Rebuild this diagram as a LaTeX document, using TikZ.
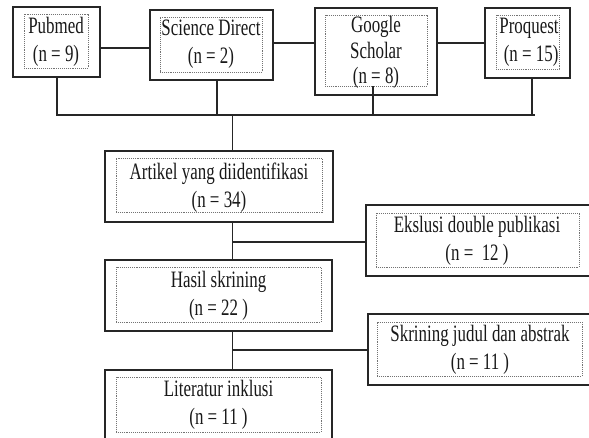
\documentclass[tikz,border=0pt]{standalone}
\usepackage{graphicx}
\usepackage{fontspec}
\setmainfont{Liberation Serif}
\newcommand{\lbl}[1]{\scalebox{0.72}[1]{\begin{tabular}{@{}c@{}}#1\end{tabular}}}

\begin{document}
\begin{tikzpicture}[x=1pt,y=-1pt,
    box/.style={draw=black!85, line width=1.4pt, inner sep=0pt},
    dotbox/.style={draw=black!55, densely dotted, line width=0.9pt, inner sep=0pt},
    txt/.style={inner sep=0pt, text=black!90, font=\fontsize{23.5}{28}\selectfont},
    link/.style={draw=black!85, line width=1.1pt}]
          \useasboundingbox (0,0) rectangle (589,438);
          \fill[white] (0,0) rectangle (589,438);
          \clip (0,0) rectangle (589,438);

          % Databases
          \node[box, minimum width=87, minimum height=70] (pubmed) at (56.5,42) {};
          \node[dotbox, minimum width=64, minimum height=54] (pubmedIn) at (56,41) {};
          \node[txt] (pubmedTx) at (56,42) {\lbl{Pubmed\\(n = 9)}};

          \node[box, minimum width=123, minimum height=70] (sd) at (211.5,45) {};
          \node[dotbox, minimum width=102, minimum height=55] (sdIn) at (211,44.5) {};
          \node[txt] (sdTx) at (211,44) {\lbl{Science Direct\\(n = 2)}};

          \node[box, minimum width=122, minimum height=87] (gs) at (376,51.5) {};
          \node[dotbox, minimum width=102, minimum height=71] (gsIn) at (376,50.5) {};
          \node[txt, font=\fontsize{23.5}{25.5}\selectfont] (gsTx) at (376,53.4) {\lbl{Google\\Scholar\\(n = 8)}};

          \node[box, minimum width=85, minimum height=70] (pq) at (527.5,43) {};
          \node[dotbox, minimum width=63, minimum height=54] (pqIn) at (527.5,42) {};
          \node[txt] (pqTx) at (529,42) {\lbl{Proquest\\~(n = 15)}};

          % Flow
          \node[box, minimum width=228, minimum height=71] (artikel) at (219,186.5) {};
          \node[dotbox, minimum width=206, minimum height=54] (artikelIn) at (219,185) {};
          \node[txt] (artikelTx) at (219,187.5) {\lbl{Artikel yang diidentifikasi\\(n = 34)}};

          \node[box, minimum width=234, minimum height=71] (ekslusi) at (483,240.5) {};
          \node[dotbox, minimum width=203, minimum height=54] (ekslusiIn) at (477.5,240) {};
          \node[txt] (ekslusiTx) at (477,240.5) {\lbl{Ekslusi double publikasi\\(n =\ \ 12 )}};

          \node[box, minimum width=227, minimum height=71] (hasil) at (218.5,295.5) {};
          \node[dotbox, minimum width=205, minimum height=55] (hasilIn) at (218.5,294.5) {};
          \node[txt] (hasilTx) at (218.5,295.5) {\lbl{Hasil skrining\\(n = 22 )}};

          \node[box, minimum width=232, minimum height=71] (skrining) at (484,349.5) {};
          \node[dotbox, minimum width=205, minimum height=54] (skriningIn) at (479.5,349) {};
          \node[txt] (skriningTx) at (480,350) {\lbl{Skrining judul dan abstrak\\(n = 11 )}};

          \node[box, minimum width=227, minimum height=71] (literatur) at (218.5,405.5) {};
          \node[dotbox, minimum width=205, minimum height=55] (literaturIn) at (218.5,404.5) {};
          \node[txt] (literaturTx) at (218.5,405) {\lbl{Literatur inklusi\\(n = 11 )}};

          % Connectors
          \coordinate (busL) at (57,115);
          \coordinate (busR) at (535,115);
          \coordinate (sdDrop) at (217,115);
          \coordinate (gsDrop) at (373,115);
          \coordinate (pqDrop) at (532,115);
          \coordinate (trunk) at (232.5,115);
          \coordinate (split1) at (232.5,242);
          \coordinate (split2) at (232.5,350);

          \draw[link] ([yshift=-6pt]pubmed.east) -- ([yshift=-3pt]sd.west);
          \draw[link] ([yshift=2pt]sd.east) -- ([yshift=8.5pt]gs.west);
          \draw[link] ([yshift=8.5pt]gs.east) -- (pq.west);
          \draw[link] (busL |- pubmed.south) -- (busL) -- (busR);
          \draw[link] (sdDrop |- sd.south) -- (sdDrop);
          \draw[link] (gsDrop |- gsIn.south) -- (gsDrop);
          \draw[link] (pqDrop |- pq.south) -- (pqDrop);
          \draw[link] (trunk) -- (trunk |- artikel.north);
          \draw[link] (trunk |- artikel.south) -- (trunk |- hasil.north);
          \draw[link] (trunk |- hasil.south) -- (trunk |- literatur.north);
          \draw[link] (split1) -- (split1 -| ekslusi.west);
          \draw[link] (split2) -- (split2 -| skrining.west);
        \end{tikzpicture}
\end{document}
